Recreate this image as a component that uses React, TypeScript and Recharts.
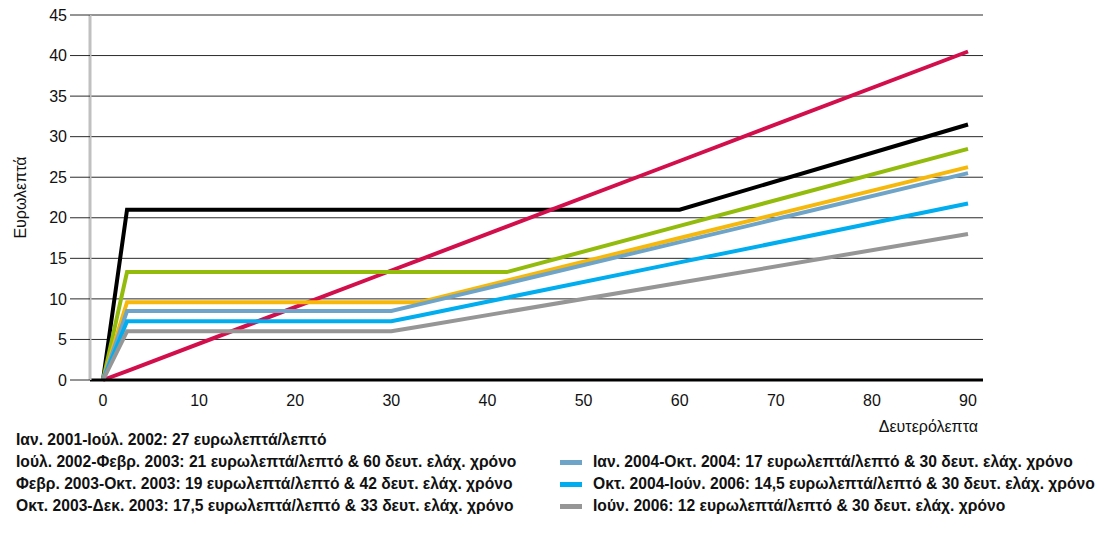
import React from "react";
import { LineChart, Line, XAxis, YAxis, CartesianGrid, Label } from "recharts";

// seconds at which the price curves bend
const seconds = [0, 2.5, 30, 33, 42, 60, 90];

// euro cents per call at the seconds above
const jan2001 = [0, 1.1, 13.5, 14.85, 18.9, 27, 40.5];
const jul2002 = [0, 21, 21, 21, 21, 21, 31.5];
const feb2003 = [0, 13.3, 13.3, 13.3, 13.3, 19, 28.5];
const oct2003 = [0, 9.6, 9.6, 9.6, 12.25, 17.5, 26.25];
const jan2004 = [0, 8.5, 8.5, 9.35, 11.9, 17, 25.5];
const oct2004 = [0, 7.25, 7.25, 7.95, 10.15, 14.5, 21.75];
const jun2006 = [0, 6, 6, 6.6, 8.4, 12, 18];

const xTicks = [0, 10, 20, 30, 40, 50, 60, 70, 80, 90];
const yTicks = [0, 5, 10, 15, 20, 25, 30, 35, 40, 45];

const series = [
  { key: "jul2002", values: jul2002, color: "#000000", name: "Ιούλ. 2002-Φεβρ. 2003: 21 ευρωλεπτά/λεπτό & 60 δευτ. ελάχ. χρόνο" },
  { key: "jan2001", values: jan2001, color: "#d20f4c", name: "Ιαν. 2001-Ιούλ. 2002: 27 ευρωλεπτά/λεπτό" },
  { key: "feb2003", values: feb2003, color: "#93bb0c", name: "Φεβρ. 2003-Οκτ. 2003: 19 ευρωλεπτά/λεπτό & 42 δευτ. ελάχ. χρόνο" },
  { key: "oct2003", values: oct2003, color: "#f6b80a", name: "Οκτ. 2003-Δεκ. 2003: 17,5 ευρωλεπτά/λεπτό & 33 δευτ. ελάχ. χρόνο" },
  { key: "jan2004", values: jan2004, color: "#6fa4c9", name: "Ιαν. 2004-Οκτ. 2004: 17 ευρωλεπτά/λεπτό & 30 δευτ. ελάχ. χρόνο" },
  { key: "oct2004", values: oct2004, color: "#00adee", name: "Οκτ. 2004-Ιούν. 2006: 14,5 ευρωλεπτά/λεπτό & 30 δευτ. ελάχ. χρόνο" },
  { key: "jun2006", values: jun2006, color: "#969696", name: "Ιούν. 2006: 12 ευρωλεπτά/λεπτό & 30 δευτ. ελάχ. χρόνο" },
];

const leftLegend = ["jan2001", "jul2002", "feb2003", "oct2003"];
const rightLegend = ["jan2004", "oct2004", "jun2006"];

const data = seconds.map((s, i) => {
  const row: Record<string, number> = { s };
  series.forEach((sr) => (row[sr.key] = sr.values[i]));
  return row;
});

const axisFont = "'Liberation Sans', Arial, sans-serif";

function LegendRow({ k, left, top }: { k: string; left: number; top: number }) {
  const s = series.find((x) => x.key === k)!;
  return (
    <div style={{ position: "absolute", left, top, height: 22, display: "flex", alignItems: "center", whiteSpace: "nowrap" }}>
      <div style={{ width: 22, height: 5, background: s.color, marginRight: 11, flex: "none" }} />
      {/* condensed look: no narrow font installed, so squeeze a bold sans */}
      <span
        style={{
          display: "inline-block",
          fontFamily: axisFont,
          fontWeight: "bold",
          fontSize: 17,
          color: "#111",
          transform: "scaleX(0.92)",
          transformOrigin: "left center",
        }}
      >
        {s.name}
      </span>
    </div>
  );
}

export default function App() {
  return (
    <div style={{ position: "relative", width: 1110, height: 540, margin: -8, background: "#fff", overflow: "hidden" }}>
      <LineChart width={1110} height={437} data={data} margin={{ top: 15, right: 127, left: 0, bottom: 0 }}>
        <CartesianGrid vertical={false} stroke="#2a2a2a" strokeWidth={1} yAxisId="eur" />
        <XAxis
          dataKey="s"
          type="number"
          domain={[0, 90]}
          ticks={xTicks}
          padding={{ left: 13, right: 15 }}
          axisLine={{ stroke: "#000", strokeWidth: 3 }}
          tickLine={false}
          tickSize={6}
          tickMargin={9}
          height={57}
          tick={{ fill: "#111", fontSize: 16, fontFamily: axisFont }}
        >
          <Label value="Δευτερόλεπτα" position="insideBottomRight" offset={5} style={{ fill: "#111", fontSize: 16, fontFamily: axisFont }} />
        </XAxis>
        <YAxis
          yAxisId="eur"
          domain={[0, 45]}
          ticks={yTicks}
          width={90}
          axisLine={{ stroke: "#c0c0c0", strokeWidth: 3 }}
          tickLine={{ stroke: "#2a2a2a" }}
          tickSize={20}
          tickMargin={3}
          tick={{ fill: "#111", fontSize: 16, fontFamily: axisFont }}
          label={{
            content: () => (
              <text x={20} y={197.5} transform="rotate(-90 20 197.5)" textAnchor="middle" dominantBaseline="central" style={{ fill: "#111", fontSize: 16, fontFamily: axisFont }}>
                Ευρωλεπτά
              </text>
            ),
          }}
        />
        <YAxis yAxisId="frame" orientation="right" domain={[0, 45]} width={0} tick={false} tickLine={false} axisLine={{ stroke: "#000", strokeWidth: 1 }} />
        {series.map((s) => (
          <Line
            key={s.key}
            yAxisId="eur"
            type="linear"
            dataKey={s.key}
            stroke={s.color}
            strokeWidth={4}
            dot={false}
            activeDot={false}
            isAnimationActive={false}
          />
        ))}
      </LineChart>
      {leftLegend.map((k, i) => (
        <LegendRow key={k} k={k} left={-17} top={429 + i * 22} />
      ))}
      {rightLegend.map((k, i) => (
        <LegendRow key={k} k={k} left={560} top={451 + i * 22} />
      ))}
    </div>
  );
}
